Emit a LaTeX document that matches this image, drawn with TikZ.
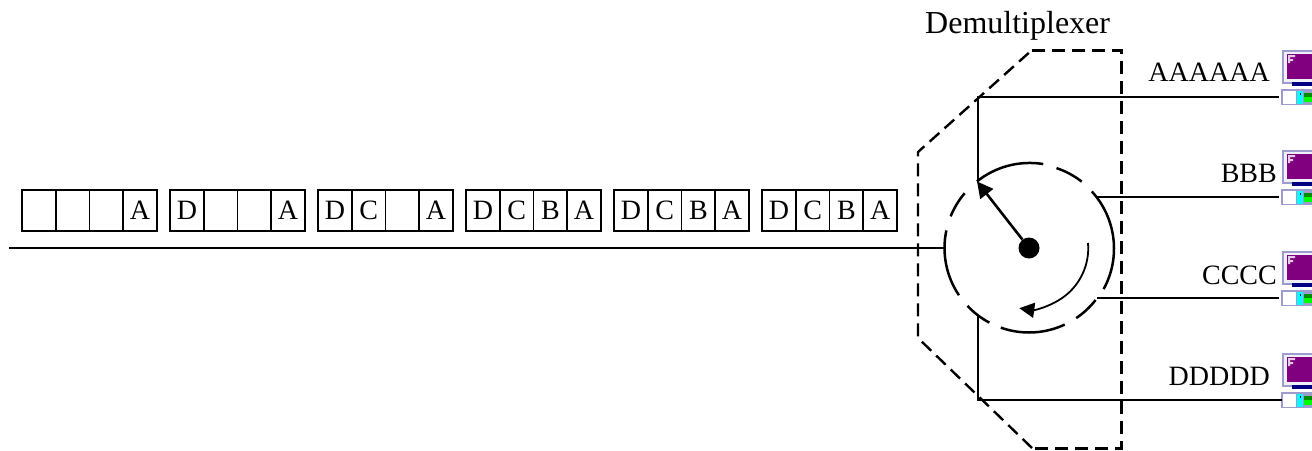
\documentclass[tikz,border=0pt]{standalone}
\usepackage{fontspec}
\setmainfont{Liberation Serif}
\usetikzlibrary{arrows.meta}

\definecolor{pcedge}{HTML}{9C9CCE}
\definecolor{pcscreen}{HTML}{800080}
\definecolor{pcstand}{HTML}{000080}
\definecolor{pcslot}{HTML}{00FFFF}

\begin{document}
\begin{tikzpicture}[
    x=1pt, y=-1pt,
    cell/.style={rectangle, draw, line width=1.5pt, minimum width=33.75pt, minimum height=41pt, inner sep=0pt, font=\fontsize{28}{30}\selectfont},
    wire/.style={line width=2pt},
    fence/.style={dashed, dash pattern=on 13pt off 7pt},
    ring/.style={line width=2.5pt},
    arrow/.style={-{Triangle[length=16pt,width=16pt]}},
    tag/.style={anchor=base east, inner sep=0pt, font=\fontsize{28}{30}\selectfont},
    computer/.pic={
        % monitor
        \fill[pcedge] (1,-47) rectangle (34,-13);
        \fill[white!85!pcedge] (3,-45) rectangle (34,-15);
        \fill[pcscreen] (6,-43) rectangle (34,-18);
        \fill[white!80!pcscreen] (7,-42) rectangle (14,-40) (7,-40) rectangle (9,-34) (9,-38) rectangle (12,-36);
        \fill[pcstand] (11,-15) rectangle (34,-11);
        % case
        \fill[pcedge] (0,-8) rectangle (34,8);
        \fill[white] (1.5,-6.5) rectangle (15,6.5);
        \fill[pcslot] (16,-6.5) rectangle (22,6.5);
        \fill[pcstand] (18.5,-4.5) rectangle (20,-2.5);
        \fill[green!55!black] (23,-4) rectangle (34,0);
        \fill[green] (23,0) rectangle (34,5);
        \coordinate (-port) at (-2,0);
        \coordinate (-case) at (1,0);
    }
]
\useasboundingbox (0,0) rectangle (1312,450);

% Demultiplexer outline
\draw[fence, line width=3pt] (1032,50) -- (1121,50) -- (1121,448) -- (1032,448);
\draw[fence, line width=2.4pt] (1032,448) -- (918,338) -- (918,152) -- (1032,50);
\node[anchor=base west, inner sep=0pt, font=\fontsize{32}{34}\selectfont] (title) at (925,33) {Demultiplexer};

% Packets
\foreach \n/\px/\d/\c/\b/\a in {1/22///{}/A, 2/170/D//{}/A, 3/318/D/C/{}/A, 4/466/D/C/B/A, 5/614/D/C/B/A, 6/762/D/C/B/A} {
    \node[cell] (p\n d) at (\px+16.9,210.5) {\d};
    \node[cell] (p\n c) at (\px+50.6,210.5) {\c};
    \node[cell] (p\n b) at (\px+84.4,210.5) {\b};
    \node[cell] (p\n a) at (\px+118.1,210.5) {\a};
}

% Rotating switch
\node[circle, minimum size=169pt, inner sep=0pt, outer sep=0pt] (rotor) at (1029,248) {};
\node[circle, fill, minimum size=21pt, inner sep=0pt] (hub) at (1029,248) {};
\foreach \s/\e in {128.6/80.8, 71.5/52, 42.5/-28.7, -38/-56, -65/-109.5, -118/-136.7, -146/-192, 158/139.6} {
    \draw[ring] (rotor.\s) arc[start angle=\s, end angle=\e, radius=84.5pt];
}
\draw[arrow, line width=2.6pt] (hub) -- (rotor.128.6);
\coordinate (sweep) at (1088,243);
\draw[-{Triangle[length=15pt,width=15pt]}, line width=1.8pt] (sweep) arc[start angle=5, end angle=-98, radius=60.5pt];

% Computers
\pic (pca) at (1281,97) {computer};
\pic (pcb) at (1281,197) {computer};
\pic (pcc) at (1281,298) {computer};
\pic (pcd) at (1281,400) {computer};

% Lines
\coordinate (feed) at (9,248);
\draw[wire] (feed) -- (rotor.west);
\draw[wire] (rotor.127) |- (pca-port);
\draw[wire] (rotor.37) -- (rotor.37 -| pcb-port);
\draw[wire] (rotor.-36.3) -- (rotor.-36.3 -| pcc-port);
\draw[wire] (rotor.-127) |- (pcd-case);

% Labels
\node[tag] (laba) at (1270,81) {AAAAAA};
\node[tag] (labb) at (1277,182) {BBB};
\node[tag] (labc) at (1277,284) {CCCC};
\node[tag] (labd) at (1270,385) {DDDDD};

\end{tikzpicture}
\end{document}
